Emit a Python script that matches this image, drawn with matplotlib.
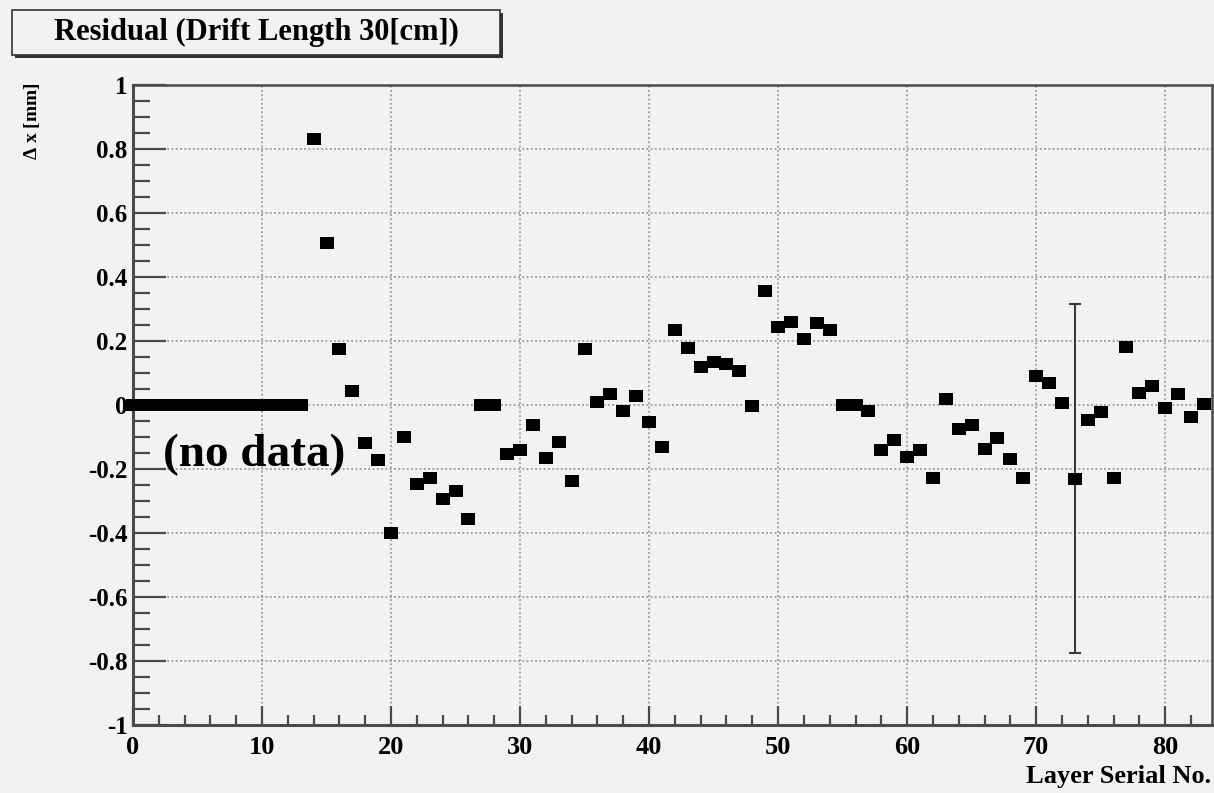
"""Residual vs layer serial number (ROOT-style plot) recreated with matplotlib."""

import matplotlib
matplotlib.use("Agg")
import matplotlib.pyplot as plt
import matplotlib.ticker as ticker
from matplotlib.patches import Rectangle
from matplotlib.path import Path

plt.rcParams.update({
    "font.family": ["Liberation Serif", "DejaVu Serif"],
    "font.weight": "bold",
    "mathtext.fontset": "custom",
    "mathtext.rm": "Liberation Serif:bold",
})

BG = "#f2f2f2"
FRAME = "#4a4a4a"

# layer serial numbers
layers = list(range(0, 84))

# residual delta x [mm]; layers 0-13 carry no data and sit at 0
residual = [
    0.0, 0.0, 0.0, 0.0, 0.0, 0.0, 0.0, 0.0, 0.0, 0.0,
    0.0, 0.0, 0.0, 0.0, 0.83, 0.505, 0.176, 0.044, -0.12, -0.173,
    -0.40, -0.10, -0.248, -0.227, -0.295, -0.269, -0.357, 0.0, 0.0, -0.154,
    -0.142, -0.062, -0.165, -0.116, -0.238, 0.176, 0.010, 0.033, -0.019, 0.028,
    -0.052, -0.131, 0.234, 0.177, 0.12, 0.135, 0.127, 0.106, -0.003, 0.356,
    0.244, 0.26, 0.207, 0.257, 0.234, 0.0, 0.0, -0.019, -0.142, -0.109,
    -0.163, -0.142, -0.227, 0.02, -0.074, -0.064, -0.139, -0.104, -0.168, -0.227,
    0.09, 0.07, 0.005, -0.23, -0.048, -0.022, -0.227, 0.181, 0.039, 0.059,
    -0.01, 0.033, -0.036, 0.002,
]

# the only visible error bar
err_layer = [73]
err_value = [-0.23]
err_size = [0.545]

# slightly wide square, like the ROOT marker in the scan
BOX = Path([(-0.5, -0.42), (0.5, -0.42), (0.5, 0.42), (-0.5, 0.42), (-0.5, -0.42)],
           [Path.MOVETO, Path.LINETO, Path.LINETO, Path.LINETO, Path.CLOSEPOLY])


def main():
    fig = plt.figure(figsize=(12.14, 7.93), dpi=100, facecolor=BG)
    ax = fig.add_axes([0.1096, 0.0858, 0.8884, 0.807], facecolor=BG)

    ax.errorbar(err_layer, err_value, yerr=err_size, fmt="none",
                ecolor="#3a3a3a", elinewidth=1.5, capsize=4, capthick=1.5,
                zorder=2)
    ax.plot(layers, residual, linestyle="none", marker=BOX, markersize=10,
            color="black", markeredgewidth=0, clip_on=False, zorder=3)

    ax.set_xlim(0, 83.6)
    ax.set_ylim(-1, 1)

    ax.xaxis.set_major_locator(ticker.MultipleLocator(10))
    ax.xaxis.set_minor_locator(ticker.MultipleLocator(2))
    ax.yaxis.set_major_locator(ticker.MultipleLocator(0.2))
    ax.yaxis.set_minor_locator(ticker.MultipleLocator(0.05))
    ax.yaxis.set_major_formatter(ticker.FuncFormatter(
        lambda v, p: "0" if abs(v) < 1e-9 else ("%g" % v)))

    ax.grid(True, which="major", linestyle=(0, (1.2, 1.6)), color="#8c8c8c",
            linewidth=1.1, zorder=0)

    ax.tick_params(axis="x", which="major", direction="in", length=13.7,
                   width=1.6, color=FRAME, labelsize=19, pad=8)
    ax.tick_params(axis="x", which="minor", direction="in", length=6.9,
                   width=1.6, color=FRAME)
    ax.tick_params(axis="y", which="major", direction="in", length=23.5,
                   width=1.6, color=FRAME, labelsize=18, pad=4)
    ax.tick_params(axis="y", which="minor", direction="in", length=12,
                   width=1.6, color=FRAME)
    for lab in ax.get_xticklabels() + ax.get_yticklabels():
        lab.set_fontweight("bold")

    for side, sp in ax.spines.items():
        sp.set_color(FRAME)
        sp.set_linewidth(2.2 if side in ("left", "bottom") else 1.8)

    ax.text(2.3, -0.155, "(no data)", fontsize=34, fontweight="bold",
            ha="left", va="center", zorder=4)

    fig.text(0.9975, 0.006, "Layer Serial No.", fontsize=19,
             fontweight="bold", ha="right", va="bottom")
    fig.text(0.026, 0.847, r"$\Delta$ x [mm]", fontsize=14,
             fontweight="bold", rotation=90, ha="center", va="center")

    # title box with shadow
    x0, y0, w, h = 12 / 1214, 1 - 55 / 793, 488 / 1214, 45 / 793
    fig.patches.append(Rectangle((x0 + 3 / 1214, y0 - 3 / 793), w, h,
                                 transform=fig.transFigure, facecolor="#333333",
                                 edgecolor="none", zorder=1))
    fig.patches.append(Rectangle((x0, y0), w, h, transform=fig.transFigure,
                                 facecolor=BG, edgecolor="#333333",
                                 linewidth=1.2, zorder=2))
    fig.text(x0 + w / 2, y0 + h / 2, "Residual (Drift Length 30[cm])",
             fontsize=22, fontweight="bold", ha="center", va="center",
             zorder=3)

    fig.savefig("out.png", dpi=100, facecolor=BG)
    plt.close(fig)


if __name__ == "__main__":
    main()
